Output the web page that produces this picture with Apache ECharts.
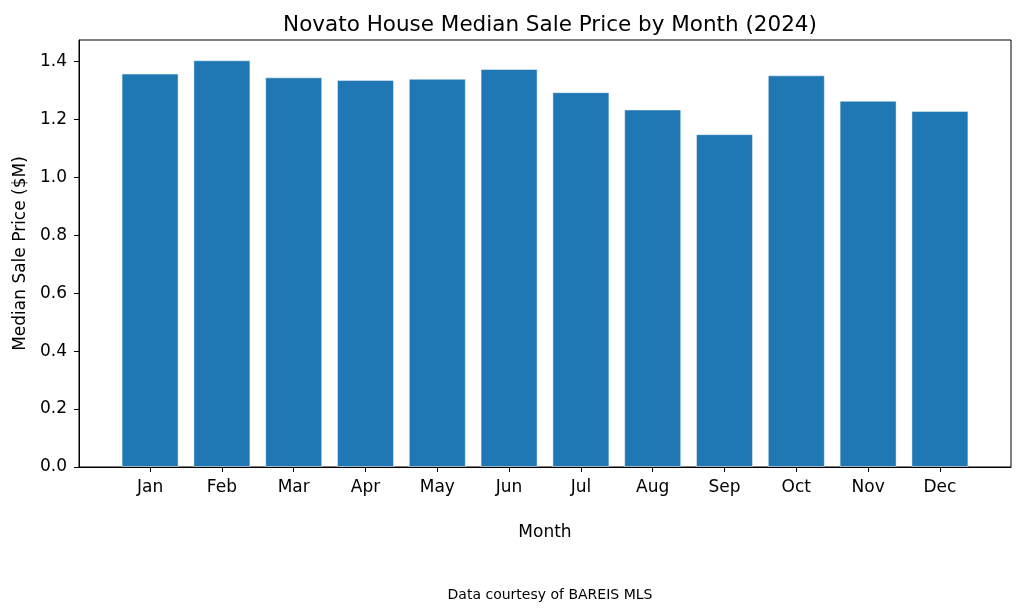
<!DOCTYPE html>
<html>
<head>
<meta charset="utf-8">
<title>Novato House Median Sale Price</title>
<style>
  html, body { margin: 0; padding: 0; background: #fff; }
  #chart { width: 1024px; height: 614px; }
</style>
</head>
<body>
<div id="chart"></div>
<script src="https://cdn.jsdelivr.net/npm/echarts@6/dist/echarts.min.js"></script>
<script>
var months = ['Jan', 'Feb', 'Mar', 'Apr', 'May', 'Jun', 'Jul', 'Aug', 'Sep', 'Oct', 'Nov', 'Dec'];
var prices = [1.358, 1.404, 1.345, 1.336, 1.340, 1.374, 1.294, 1.234, 1.149, 1.352, 1.264, 1.229];
var yTicks = [0, 0.2, 0.4, 0.6, 0.8, 1.0, 1.2, 1.4];

var font = 'DejaVu Sans';
var chart = echarts.init(document.getElementById('chart'));

// bars sit on a value axis so the side margins match the original
var positions = months.map(function (m, i) { return i; });
var barData = prices.map(function (v, i) { return [i, v]; });

chart.setOption({
  animation: false,
  textStyle: { fontFamily: font },
  title: [
    {
      text: 'Novato House Median Sale Price by Month (2024)',
      left: 545, top: 9, textAlign: 'center',
      textStyle: { fontFamily: font, fontSize: 21.5, fontWeight: 'normal', color: '#000' }
    },
    {
      text: 'Data courtesy of BAREIS MLS',
      left: 545, top: 583, textAlign: 'center',
      textStyle: { fontFamily: font, fontSize: 14, fontWeight: 'normal', color: '#000' }
    }
  ],
  grid: {
    left: 79, right: 13, top: 40, bottom: 147,
    show: true, borderColor: '#000', borderWidth: 1
  },
  xAxis: {
    type: 'value',
    min: -0.99, max: 11.99,
    name: 'Month', nameLocation: 'middle', nameGap: 57,
    nameTextStyle: { fontFamily: font, fontSize: 17, color: '#000' },
    axisLine: { show: true, onZero: false, lineStyle: { color: '#000' } },
    axisTick: { show: true, length: 5, customValues: positions, lineStyle: { color: '#000' } },
    axisLabel: {
      customValues: positions, margin: 12,
      fontFamily: font, fontSize: 17, color: '#000',
      formatter: function (v) { return months[Math.round(v)]; }
    },
    splitLine: { show: false }
  },
  yAxis: {
    type: 'value',
    min: 0, max: 1.474,
    name: 'Median Sale Price ($M)', nameLocation: 'middle', nameGap: 47,
    nameTextStyle: { fontFamily: font, fontSize: 17, color: '#000' },
    axisLine: { show: true, onZero: false, lineStyle: { color: '#000' } },
    axisTick: { show: true, length: 5, customValues: yTicks, lineStyle: { color: '#000' } },
    axisLabel: {
      customValues: yTicks, margin: 12,
      fontFamily: font, fontSize: 17, color: '#000',
      formatter: function (v) { return v.toFixed(1); }
    },
    splitLine: { show: false }
  },
  series: [{
    type: 'bar',
    data: barData,
    barWidth: 57,
    itemStyle: { color: '#1f77b4', borderColor: 'rgba(255,255,255,0.45)', borderWidth: 1 }
  }]
});
</script>
</body>
</html>
